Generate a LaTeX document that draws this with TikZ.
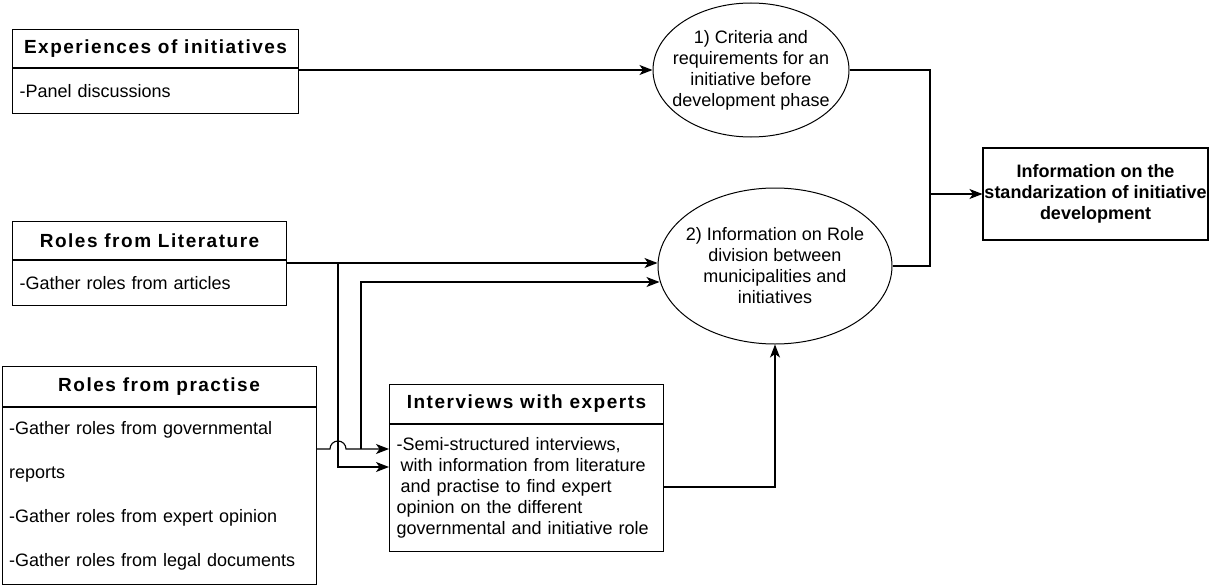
\documentclass[tikz,border=0pt]{standalone}
\usepackage{fontspec}
\setmainfont{Liberation Sans}
\newfontfamily\spacedfont[LetterSpace=8]{Liberation Sans}
\usetikzlibrary{positioning,shapes.geometric,arrows.meta}
\tikzset{
    txt/.style={font=\fontsize{18}{21}\selectfont},
    head/.style={draw,line width=1.1pt,anchor=north west,inner sep=0pt,font=\spacedfont\bfseries\fontsize{19}{22}\selectfont},
    body/.style={draw,line width=1.1pt,anchor=north,inner xsep=7pt,inner ysep=0pt,align=left,txt},
    oval/.style={draw,ellipse,line width=1pt,inner sep=-10pt,align=center,txt},
    result/.style={draw,line width=1.1pt,inner sep=0pt,align=center,font=\bfseries\fontsize{18}{21}\selectfont},
    line/.style={line width=1.1pt},
    arr/.style={line width=1.1pt,-{Stealth[length=13pt,width=10pt,inset=3.5pt]}}
}
\begin{document}
\begin{tikzpicture}[x=1pt,y=-1pt]
    \useasboundingbox (0,0) rectangle (1210,586);
    \node[head,minimum width=286,minimum height=38] (exph) at (12,29) {Experiences of initiatives};
    \node[body,below=0pt of exph,text width=272,minimum height=45] (expb) {-Panel discussions};
    \node[head,minimum width=274,minimum height=38] (lith) at (12,221) {Roles from Literature};
    \node[body,below=0pt of lith,text width=260,minimum height=45] (litb) {-Gather roles from articles};
    \node[head,minimum width=314,minimum height=40] (prach) at (1.5,366) {Roles from practise};
    \node[body,below=0pt of prach,text width=300,minimum height=177] (pracb)
    {-Gather roles from governmental\\[23pt]reports\\[23pt]-Gather roles from expert opinion\\[23pt]-Gather roles from legal documents};
    \node[head,minimum width=274,minimum height=39] (inth) at (389,384) {Interviews with experts};
    \node[body,below=0pt of inth,text width=260,minimum height=127] (intb)
    {-Semi-structured interviews,\\\hspace*{4pt}with information from literature\\\hspace*{4pt}and practise to find expert\\opinion on the different\\governmental and initiative role};
    \node[oval,minimum width=196,minimum height=134] (crit) at (751,70)
    {1) Criteria and\\requirements for an\\initiative before\\development phase};
    \node[oval,minimum width=234,minimum height=156] (role) at (775,266)
    {2) Information on Role\\division between\\municipalities and\\initiatives};
    \node[result,minimum width=225,minimum height=92] (out) at (1095.5,194)
    {Information on the\\standarization of initiative\\development};
    \coordinate (merge) at (930,194);
    \coordinate (split) at (338,263);
    \coordinate (rise) at (361,449);
    \draw[arr] (expb.east |- crit.west) -- (crit.west);
    \draw[line] (crit.east) -| (merge) |- (role.east);
    \draw[arr] (merge) -- (out.west);
    \draw[arr] (litb.east |- 0,263) -- (role.west |- 0,263);
    \draw[arr] (split) |- (intb.west |- 0,467);
    \draw[arr] (pracb.east |- 0,449) -- (330,449) arc[start angle=180,end angle=360,radius=8] -- (intb.west |- 0,449);
    \draw[arr] (rise) |- ([xshift=2pt]role.west |- 0,282);
    \draw[arr] (intb.east |- 0,487) -| (role.south);
\end{tikzpicture}
\end{document}
